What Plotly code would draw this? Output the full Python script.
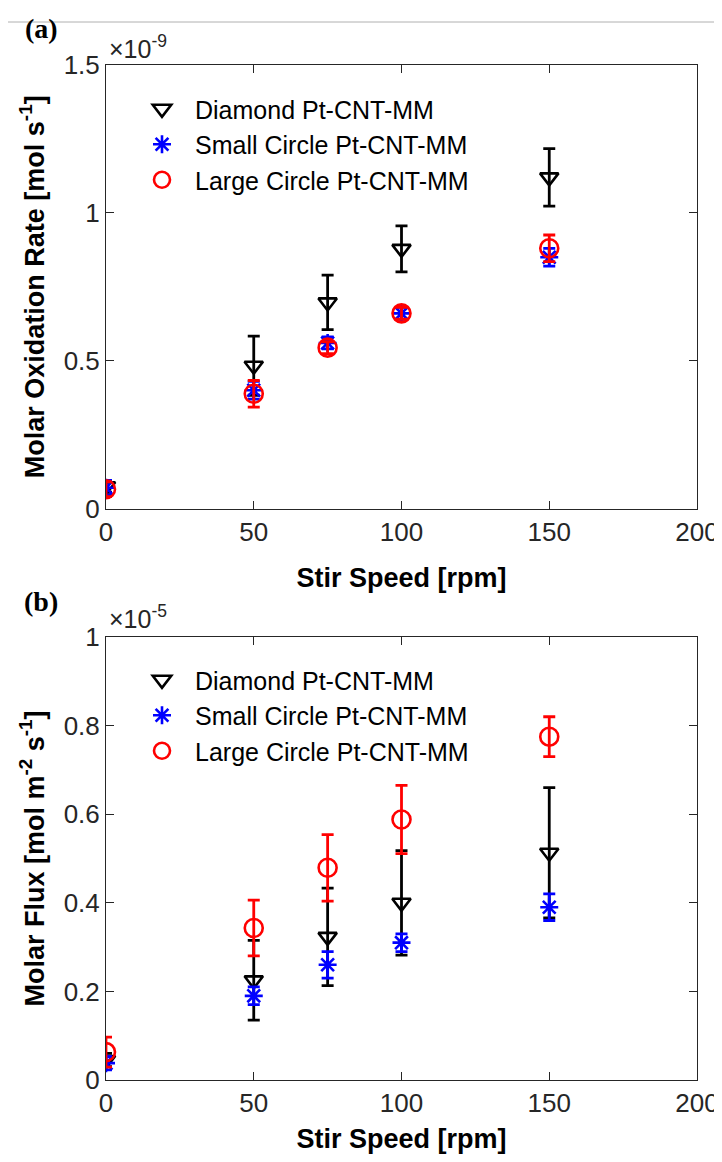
import plotly.graph_objects as go

# ---------------- data ----------------
speeds = [0, 50, 75, 100, 150]
series_names = ["Diamond Pt-CNT-MM", "Small Circle Pt-CNT-MM", "Large Circle Pt-CNT-MM"]

# panel (a): molar oxidation rate, units of 1e-9 mol s^-1
diamond_rate = [0.075, 0.483, 0.697, 0.878, 1.12]
diamond_rate_err = [0.02, 0.10, 0.092, 0.078, 0.097]
small_rate = [0.07, 0.40, 0.56, 0.66, 0.85]
small_rate_err = [0.025, 0.03, 0.02, 0.02, 0.03]
large_rate = [0.065, 0.388, 0.544, 0.66, 0.88]
large_rate_err = [0.025, 0.045, 0.02, 0.02, 0.045]

# panel (b): molar flux, units of 1e-5 mol m^-2 s^-1
diamond_flux = [0.045, 0.225, 0.323, 0.40, 0.513]
diamond_flux_err = [0.015, 0.09, 0.11, 0.118, 0.147]
small_flux = [0.038, 0.19, 0.26, 0.31, 0.39]
small_flux_err = [0.015, 0.02, 0.03, 0.02, 0.03]
large_flux = [0.063, 0.343, 0.479, 0.588, 0.775]
large_flux_err = [0.034, 0.063, 0.075, 0.077, 0.045]

x_ticks = [0, 50, 100, 150, 200]

# ---------------- geometry ----------------
# the page body has an 8px margin on every side; keep the figure inside the
# window so that no scrollbar appears
OFF = 8
W, H = 722 - OFF, 1162 - 2 * OFF
# plot area in page pixels
PL, PR, PT, PB = 106, 697, 65, 1080
ML, MR, MT, MB = PL - OFF, W - (PR - OFF), PT - OFF, H - (PB - OFF)
PW, PH = PR - PL, PB - PT

def px_x(px):
    return (px - PL) / PW

def px_y(py):
    return (PB - py) / PH

AXC = "#262626"
FONT = "Liberation Sans, Arial, Helvetica, sans-serif"

styles = [
    dict(symbol="triangle-down-open", color="black", size=16),
    dict(symbol="asterisk-open", color="blue", size=15),
    dict(symbol="circle-open", color="red", size=18),
]

fig = go.Figure()

panel_a = [(diamond_rate, diamond_rate_err), (small_rate, small_rate_err), (large_rate, large_rate_err)]
panel_b = [(diamond_flux, diamond_flux_err), (small_flux, small_flux_err), (large_flux, large_flux_err)]

for axes, legend, panel in [(("x", "y"), "legend", panel_a), (("x2", "y2"), "legend2", panel_b)]:
    for (vals, errs), name, st in zip(panel, series_names, styles):
        fig.add_trace(go.Scatter(
            x=speeds, y=vals, name=name, mode="markers",
            xaxis=axes[0], yaxis=axes[1], legend=legend,
            marker=dict(symbol=st["symbol"], size=st["size"], color=st["color"],
                        line=dict(color=st["color"], width=2.6)),
            error_y=dict(type="data", array=errs, visible=True, color=st["color"],
                         thickness=2.8, width=6),
        ))

dom_a = [px_y(508.5), 1.0]
dom_b = [0.0, px_y(637)]

common_x = dict(range=[0, 200], tickvals=x_ticks, ticks="inside", ticklen=8,
                tickcolor=AXC, showline=True, linecolor=AXC, linewidth=1,
                mirror="ticks", showgrid=False, zeroline=False,
                tickfont=dict(family=FONT, size=26, color=AXC),
                automargin=False)
common_y = dict(ticks="inside", ticklen=8, tickcolor=AXC, showline=True,
                linecolor=AXC, linewidth=1, mirror="ticks", showgrid=False,
                zeroline=False, tickfont=dict(family=FONT, size=26, color=AXC),
                automargin=False)

title_font = dict(family=FONT, size=27, color="black")
legend_font = dict(family=FONT, size=25, color="black")

fig.update_layout(
    width=W, height=H,
    margin=dict(l=ML, r=MR, t=MT, b=MB),
    paper_bgcolor="white", plot_bgcolor="white",
    font=dict(family=FONT, color="black"),
    xaxis=dict(common_x, anchor="y", domain=[0, 1],
               title=dict(text="<b>Stir Speed [rpm]</b>", font=title_font, standoff=22)),
    yaxis=dict(common_y, anchor="x", domain=dom_a, range=[0, 1.5], dtick=0.5,
               title=dict(text="<b>Molar Oxidation Rate [mol s<sup>-1</sup>]</b>",
                          font=title_font, standoff=11)),
    xaxis2=dict(common_x, anchor="y2", domain=[0, 1],
                title=dict(text="<b>Stir Speed [rpm]</b>", font=title_font, standoff=16)),
    yaxis2=dict(common_y, anchor="x2", domain=dom_b, range=[0, 1], dtick=0.2,
                title=dict(text="<b>Molar Flux [mol m<sup>-2</sup> s<sup>-1</sup>]</b>",
                           font=title_font, standoff=11)),
    legend=dict(x=px_x(129), y=px_y(86), xanchor="left", yanchor="top",
                bgcolor="rgba(0,0,0,0)", font=legend_font, itemwidth=56,
                tracegroupgap=0, itemsizing="trace"),
    legend2=dict(x=px_x(129), y=px_y(657), xanchor="left", yanchor="top",
                 bgcolor="rgba(0,0,0,0)", font=legend_font, itemwidth=56,
                 tracegroupgap=0, itemsizing="trace"),
    showlegend=True,
)

SERIF = "Liberation Serif, Times New Roman, serif"
for txt, py in [("<b>(a)</b>", 28), ("<b>(b)</b>", 601)]:
    fig.add_annotation(text=txt, xref="paper", yref="paper", x=px_x(41), y=px_y(py),
                       xanchor="center", yanchor="middle", showarrow=False,
                       font=dict(family=SERIF, size=28, color="black"))
for txt, py in [("×10<sup>-9</sup>", 47), ("×10<sup>-5</sup>", 617)]:
    fig.add_annotation(text=txt, xref="paper", yref="paper", x=px_x(107), y=px_y(py),
                       xanchor="left", yanchor="middle", showarrow=False,
                       font=dict(family=FONT, size=25, color=AXC))

fig.add_shape(type="line", xref="paper", yref="paper",
              x0=px_x(8), x1=px_x(730), y0=px_y(22), y1=px_y(22),
              line=dict(color="#b0b0b0", width=1))

fig.write_html("out.html")
